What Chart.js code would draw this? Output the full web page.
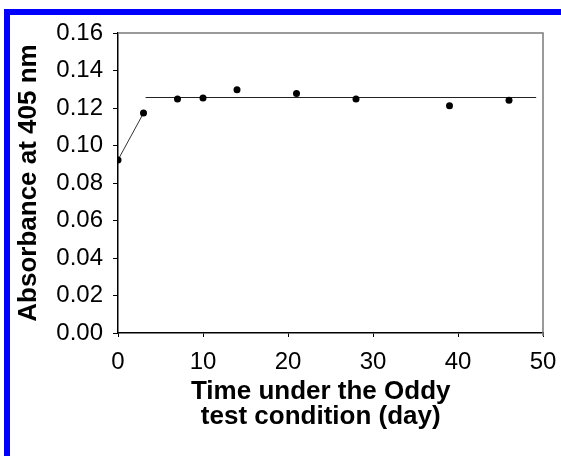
<!DOCTYPE html>
<html>
<head>
<meta charset="utf-8">
<script src="https://cdn.jsdelivr.net/npm/chart.js@4/dist/chart.umd.min.js"></script>
<style>
  html, body { margin: 0; padding: 0; background: #fff; }
  #wrap { position: relative; width: 561px; height: 456px; overflow: hidden; }
  #c { position: absolute; left: 0; top: 0; }
  #frame {
    position: absolute; left: 4px; top: 9px; right: 0; bottom: 0;
    border-left: 6px solid #0000ff; border-top: 6px solid #0000ff;
    pointer-events: none;
  }
</style>
</head>
<body>
<div id="wrap">
  <canvas id="c" width="561" height="456"></canvas>
  <div id="frame"></div>
</div>
<script>
// Absorbance readings over time
const days = [0, 3, 7, 10, 14, 21, 28, 39, 46];
const absorbance = [0.0923, 0.1173, 0.1248, 0.1253, 0.1298, 0.1278, 0.1248, 0.1212, 0.1241];

// Initial rise (first two readings joined)
const riseDays = [0, 3];
const riseValues = [0.0923, 0.1173];

// Plateau level
const plateauDays = [3.25, 49.2];
const plateauValues = [0.1256, 0.1256];

const xTicks = [0, 10, 20, 30, 40, 50];
const yTicks = [0, 0.02, 0.04, 0.06, 0.08, 0.10, 0.12, 0.14, 0.16];

const xTitleLines = ['Time under the Oddy', 'test condition (day)'];
const yTitle = 'Absorbance at 405 nm';

const FONT = '"Liberation Sans", Arial, sans-serif';
const toXY = (xs, ys) => xs.map((x, i) => ({ x: x, y: ys[i] }));

// Gray top/right edges of the plot box
const boxEdges = {
  id: 'boxEdges',
  afterDraw(chart) {
    const { ctx, chartArea: a } = chart;
    ctx.save();
    ctx.strokeStyle = '#7a7a7a';
    ctx.lineWidth = 1.5;
    ctx.beginPath();
    ctx.moveTo(a.left, a.top);
    ctx.lineTo(a.right, a.top);
    ctx.lineTo(a.right, a.bottom + 3);
    ctx.stroke();
    ctx.restore();
  }
};

// Two-line x-axis title
const xTitle = {
  id: 'xTitle',
  afterDraw(chart) {
    const { ctx, chartArea: a } = chart;
    ctx.save();
    ctx.fillStyle = '#000';
    ctx.font = 'bold 26px ' + FONT;
    ctx.textAlign = 'center';
    ctx.textBaseline = 'alphabetic';
    const cx = a.left + a.width * 0.477;
    xTitleLines.forEach((t, i) => ctx.fillText(t, cx, a.bottom + 66 + i * 25));
    ctx.restore();
  }
};

new Chart(document.getElementById('c'), {
  type: 'scatter',
  data: {
    datasets: [
      {
        data: toXY(riseDays, riseValues),
        showLine: true,
        borderColor: '#333',
        borderWidth: 1,
        pointRadius: 0,
        order: 2
      },
      {
        data: toXY(plateauDays, plateauValues),
        showLine: true,
        borderColor: '#222',
        borderWidth: 1,
        pointRadius: 0,
        order: 2
      },
      {
        data: toXY(days, absorbance),
        showLine: false,
        backgroundColor: '#000',
        borderColor: '#000',
        pointRadius: 3.5,
        borderWidth: 0,
        order: 1
      }
    ]
  },
  options: {
    responsive: false,
    animation: false,
    devicePixelRatio: 1,
    layout: { padding: { top: 33, right: 4, left: 0, bottom: 0 } },
    plugins: { legend: { display: false }, tooltip: { enabled: false } },
    scales: {
      x: {
        type: 'linear',
        min: 0, max: 50,
        afterBuildTicks(s) { s.ticks = xTicks.map(v => ({ value: v })); },
        afterFit(s) { s.height = 123; s.paddingRight = 18; },
        grid: { drawOnChartArea: false, drawTicks: true, tickLength: 4, color: '#000' },
        border: { color: '#000', width: 1.5 },
        ticks: {
          color: '#000', padding: 11,
          font: { family: FONT, size: 24 },
          maxRotation: 0
        },
        title: { display: false }
      },
      y: {
        type: 'linear',
        min: 0, max: 0.16,
        afterBuildTicks(s) { s.ticks = yTicks.map(v => ({ value: v })); },
        afterFit(s) { s.width = 118; },
        grid: { drawOnChartArea: false, drawTicks: true, tickLength: 5, color: '#000' },
        border: { color: '#000', width: 1.5 },
        ticks: {
          color: '#000', padding: 10,
          font: { family: FONT, size: 24 },
          callback: v => v.toFixed(2)
        },
        title: {
          display: true,
          text: yTitle,
          color: '#000',
          font: { family: FONT, size: 26, weight: 'bold' },
          padding: { top: 13, bottom: 0 }
        }
      }
    }
  },
  plugins: [boxEdges, xTitle]
});
</script>
</body>
</html>
